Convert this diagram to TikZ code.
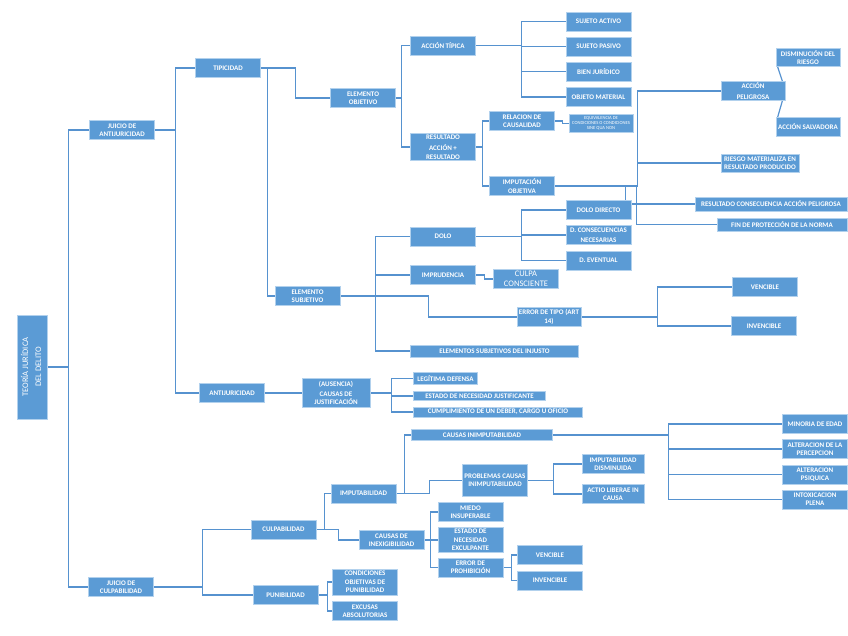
\documentclass[tikz,border=0pt]{standalone}
\usepackage{fontspec}
\setmainfont{Carlito}
\usepackage{graphicx}
\usetikzlibrary{backgrounds}
\definecolor{boxblue}{RGB}{91,155,213}
\definecolor{rimblue}{RGB}{178,209,237}
\definecolor{linkblue}{RGB}{86,146,207}

\begin{document}
\begin{tikzpicture}[x=1pt, y=-1pt,
  font=\fontsize{7}{8.3}\selectfont\bfseries,
  concept/.style={draw=rimblue, line width=0.7pt, fill=boxblue, text=white, align=center,
                  inner sep=0pt, minimum width=65pt, minimum height=19pt},
  wide/.style={concept, minimum height=12pt},
  plain/.style={font=\fontsize{8.5}{10}\selectfont\mdseries},
  tiny/.style={font=\fontsize{4.6}{5}\selectfont\mdseries},
  link/.style={draw=linkblue, line width=1.2pt}]
\useasboundingbox (0,0) rectangle (848,636);
% root and the two judgements
\node[concept, minimum width=30pt, minimum height=104pt] (teoria) at (32,367)
  {\rotatebox{90}{\fontsize{8.5}{13}\selectfont\mdseries\begin{tabular}{@{}c@{}}TEORÍA JURÍDICA\\DEL DELITO\end{tabular}}};
\node[concept] (jant) at (122,130) {JUICIO DE\\ANTIJURICIDAD};
\node[concept] (jcul) at (121,587) {JUICIO DE\\CULPABILIDAD};
% antijuridicity branch
\node[concept] (tip) at (228,68) {TIPICIDAD};
\node[concept] (antij) at (232,393) {ANTIJURICIDAD};
\node[concept] (elemobj) at (363,98) {ELEMENTO\\OBJETIVO};
\node[concept] (elemsub) at (307.5,296) {ELEMENTO\\SUBJETIVO};
\node[concept] (accion) at (443,45.5) {ACCIÓN TÍPICA};
\node[concept, minimum height=27pt] (resultado) at (443,147) {RESULTADO\\[3pt]ACCIÓN +\\RESULTADO};
\node[concept] (sujact) at (598.5,21.5) {SUJETO ACTIVO};
\node[concept] (sujpas) at (598.5,46.5) {SUJETO PASIVO};
\node[concept] (bien) at (598.5,71.7) {BIEN JURÍDICO};
\node[concept] (objeto) at (598.5,97) {OBJETO MATERIAL};
\node[concept] (relacion) at (522,121) {RELACION DE\\CAUSALIDAD};
\node[concept] (imput) at (522,186) {IMPUTACIÓN\\OBJETIVA};
\node[concept, tiny, minimum width=64pt, minimum height=18pt] (equiv) at (601,123.5)
  {EQUIVALENCIA DE\\CONDICIONES O CONDICIONES\\SINE QUA NON};
\node[concept, minimum width=64pt] (accpel) at (753,91) {ACCIÓN\\[3pt]PELIGROSA};
\node[concept, minimum width=64pt, minimum height=18pt] (dism) at (808,57.5) {DISMINUCIÓN DEL\\RIESGO};
\node[concept, minimum width=64pt] (salv) at (808,127) {ACCIÓN SALVADORA};
\node[concept, minimum width=78pt, minimum height=18pt] (riesgo) at (760,163) {RIESGO MATERIALIZA EN\\RESULTADO PRODUCIDO};
\node[wide, minimum width=152pt, minimum height=14pt] (rescons) at (771,204) {RESULTADO CONSECUENCIA ACCIÓN PELIGROSA};
\node[wide, minimum width=130pt, minimum height=13pt] (fin) at (782,224.5) {FIN DE PROTECCIÓN DE LA NORMA};
\node[concept] (dolo) at (443,236.5) {DOLO};
\node[concept] (imprud) at (443,275) {IMPRUDENCIA};
\node[concept, plain] (culpa) at (526,279) {CULPA\\CONSCIENTE};
\node[concept, minimum width=64pt] (errtipo) at (549,317) {ERROR DE TIPO (ART\\14)};
\node[wide, minimum width=168pt] (elemsi) at (494.5,351) {ELEMENTOS SUBJETIVOS DEL INJUSTO};
\node[concept] (dolodir) at (598.5,210) {DOLO DIRECTO};
\node[concept] (dcons) at (598.5,235) {D. CONSECUENCIAS\\[2pt]NECESARIAS};
\node[concept] (devent) at (598.5,260.4) {D. EVENTUAL};
\node[concept] (venc) at (765,287) {VENCIBLE};
\node[concept] (invenc) at (764,326) {INVENCIBLE};
\node[concept, minimum width=68pt, minimum height=29pt] (ausencia) at (336,393) {(AUSENCIA)\\[1pt]CAUSAS DE\\JUSTIFICACIÓN};
\node[wide, minimum width=64pt] (legit) at (445.5,378.5) {LEGÍTIMA DEFENSA};
\node[wide, minimum width=132pt, minimum height=9.5pt] (estjust) at (479.5,396) {ESTADO DE NECESIDAD JUSTIFICANTE};
\node[wide, minimum width=169pt, minimum height=10.3pt] (cumpl) at (498,412) {CUMPLIMIENTO DE UN DEBER, CARGO U OFICIO};
% culpability branch
\node[concept] (culpab) at (283.5,529.5) {CULPABILIDAD};
\node[concept] (punib) at (285.5,595) {PUNIBILIDAD};
\node[concept] (imputab) at (363.5,493.5) {IMPUTABILIDAD};
\node[concept] (inexig) at (391.5,540) {CAUSAS DE\\INEXIGIBILIDAD};
\node[wide, minimum width=141pt, minimum height=11pt] (causinimp) at (482,435) {CAUSAS INIMPUTABILIDAD};
\node[concept] (minoria) at (815,424) {MINORIA DE EDAD};
\node[concept] (alterper) at (815,449) {ALTERACION DE LA\\PERCEPCION};
\node[concept] (alterpsi) at (815,474.5) {ALTERACION\\PSIQUICA};
\node[concept] (intox) at (815,499.5) {INTOXICACION\\PLENA};
\node[concept, minimum height=31.6pt] (problemas) at (495,480.5) {PROBLEMAS CAUSAS\\INIMPUTABILIDAD};
\node[concept, minimum width=62pt] (impdism) at (613,464) {IMPUTABILIDAD\\DISMINUIDA};
\node[concept, minimum width=62pt] (actio) at (613,494) {ACTIO LIBERAE IN\\CAUSA};
\node[concept] (miedo) at (470.5,512) {MIEDO\\INSUPERABLE};
\node[concept, minimum height=24.6pt] (estexc) at (470.5,540) {ESTADO DE\\NECESIDAD\\EXCULPANTE};
\node[concept] (errprohib) at (470.5,567.5) {ERROR DE\\PROHIBICIÓN};
\node[concept] (venc2) at (550,555) {VENCIBLE};
\node[concept] (invenc2) at (550,580.4) {INVENCIBLE};
\node[concept, minimum height=26.3pt] (condic) at (365,582) {CONDICIONES\\OBJETIVAS DE\\PUNIBILIDAD};
\node[concept] (excusas) at (365,611) {EXCUSAS\\ABSOLUTORIAS};
% connectors
\begin{scope}[on background layer]
\draw[link] (teoria.east) -- ++(21,0) |- (jant.west);
\draw[link] (teoria.east) -- ++(21,0) |- (jcul.west);
\draw[link] (jant.east) -- ++(21,0) |- (tip.west);
\draw[link] (jant.east) -- ++(21,0) |- (antij.west);
\draw[link] (tip.east) -- ++(35,0) |- (elemobj.west);
\draw[link] (tip.east) -- ++(7,0) |- (elemsub.west);
\draw[link] (elemobj.east) -- ++(6,0) |- (accion.west);
\draw[link] (elemobj.east) -- ++(6,0) |- (resultado.west);
\foreach \leaf in {sujact,sujpas,bien,objeto}
  \draw[link] (accion.east) -- ++(46,0) |- (\leaf.west);
\draw[link] (resultado.east) -- ++(7,0) |- (relacion.west);
\draw[link] (resultado.east) -- ++(7,0) |- (imput.west);
\draw[link] (relacion.east) -- ++(8,0) |- (equiv.west);
\draw[link] (imput.east) -- ++(83,0) |- (accpel.west);
\draw[link] (imput.east) -- ++(83,0) |- (riesgo.west);
\draw[link] (imput.east) -- ++(71,0) |- (rescons.west);
\draw[link] (imput.east) -- ++(82,0) |- (fin.west);
\draw[link] ([xshift=-3pt]accpel.north east) -- ([xshift=2pt]dism.south west);
\draw[link] ([xshift=-3pt]accpel.south east) -- ([xshift=2pt]salv.north west);
\foreach \leaf in {dolo,imprud,elemsi}
  \draw[link] (elemsub.east) -- ++(35,0) |- (\leaf.west);
\draw[link] (elemsub.east) -- ++(88,0) |- (errtipo.west);
\foreach \leaf in {dolodir,dcons,devent}
  \draw[link] (dolo.east) -- ++(46,0) |- (\leaf.west);
\draw[link] (imprud.east) -- ++(9,0) |- (culpa.west);
\draw[link] (errtipo.east) -- ++(76,0) |- (venc.west);
\draw[link] (errtipo.east) -- ++(76,0) |- (invenc.west);
\draw[link] (antij) -- (ausencia);
\foreach \leaf in {legit,estjust,cumpl}
  \draw[link] (ausencia.east) -- ++(21,0) |- (\leaf.west);
\draw[link] (jcul.east) -- ++(49,0) |- (culpab.west);
\draw[link] (jcul.east) -- ++(49,0) |- (punib.west);
\draw[link] (culpab.east) -- ++(8,0) |- (imputab.west);
\draw[link] (culpab.east) -- ++(22,0) |- (inexig.west);
\draw[link] (imputab.east) -- ++(8,0) |- (causinimp.west);
\draw[link] (imputab.east) -- ++(33,0) |- (problemas.west);
\foreach \leaf in {minoria,alterper,alterpsi,intox}
  \draw[link] (causinimp.east) -- ++(116,0) |- (\leaf.west);
\draw[link] (problemas.east) -- ++(26,0) |- (impdism.west);
\draw[link] (problemas.east) -- ++(26,0) |- (actio.west);
\foreach \leaf in {miedo,estexc,errprohib}
  \draw[link] (inexig.east) -- ++(6,0) |- (\leaf.west);
\draw[link] (errprohib.east) -- ++(8,0) |- (venc2.west);
\draw[link] (errprohib.east) -- ++(8,0) |- (invenc2.west);
\draw[link] (punib.east) -- ++(9,0) |- (condic.west);
\draw[link] (punib.east) -- ++(9,0) |- (excusas.west);
\end{scope}
\end{tikzpicture}
\end{document}
